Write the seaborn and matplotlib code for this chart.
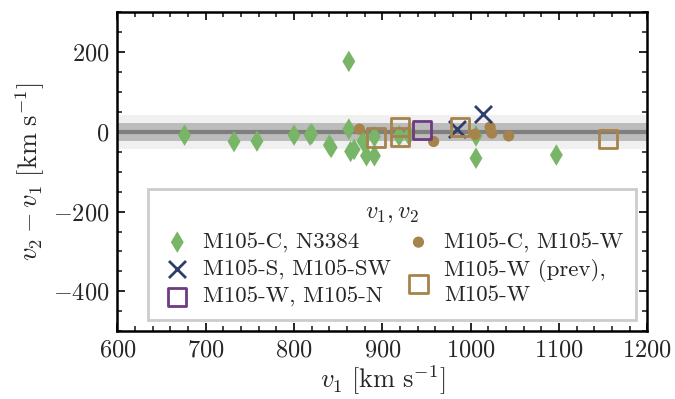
import matplotlib
matplotlib.use("Agg")
import matplotlib.pyplot as plt
import seaborn as sns
import pandas as pd
from matplotlib.ticker import MultipleLocator

# ---- data ----
c_n3384_v1 = [676, 732, 758, 800, 818, 820, 840, 842, 862, 862, 864, 868, 878, 882, 891, 891, 919, 930, 1006, 1006, 1097]
c_n3384_dv = [-8, -24, -23, -8, -8, -5, -33, -39, 177, 7, -49, -44, -23, -60, -60, -12, -10, -8, -66, -10, -58]

c_w_v1 = [874, 958, 1005, 1022, 1024, 1043]
c_w_dv = [7, -24, -6, 12, -3, -10]

s_sw_v1 = [985, 1014]
s_sw_dv = [7, 45]

w_n_v1 = [945]
w_n_dv = [5]

wprev_w_v1 = [893, 920, 920, 988, 1155]
wprev_w_dv = [-14, 13, -12, 12, -18]

labels = ["M105-C, N3384", "M105-S, M105-SW", "M105-W, M105-N",
          "M105-C, M105-W", "M105-W (prev),\nM105-W"]
colors = ["#79b567", "#2d3e6d", "#6e3a80", "#a6834b", "#a6834b"]

xticks = [600, 700, 800, 900, 1000, 1100, 1200]
yticks = [-400, -200, 0, 200]

sns.set_style("ticks")
plt.rcParams.update({
    "font.family": "serif",
    "font.serif": ["cmr10", "DejaVu Serif"],
    "mathtext.fontset": "cm",
    "axes.formatter.use_mathtext": True,
    "axes.unicode_minus": True,
    "xtick.direction": "in",
    "ytick.direction": "in",
    "xtick.top": True,
    "ytick.right": True,
    "xtick.minor.visible": True,
    "ytick.minor.visible": True,
    "axes.linewidth": 1.8,
    "xtick.major.width": 1.4,
    "ytick.major.width": 1.4,
    "xtick.minor.width": 1.2,
    "ytick.minor.width": 1.2,
    "xtick.major.size": 6,
    "ytick.major.size": 6,
    "xtick.minor.size": 3.5,
    "ytick.minor.size": 3.5,
    "axes.edgecolor": "black",
})

fig = plt.figure(figsize=(6.75, 3.99), dpi=100)
ax = fig.add_axes([0.174, 0.170, 0.785, 0.799])

ax.axhspan(-43, 43, color="#f0f0f0", zorder=0, lw=0)
ax.axhspan(-23, 23, color="#bcbcbc", zorder=0.5, lw=0)
ax.axhline(0, color="#7f7f7f", lw=3, zorder=1)

df1 = pd.DataFrame({"v1": c_n3384_v1, "dv": c_n3384_dv})
df2 = pd.DataFrame({"v1": s_sw_v1, "dv": s_sw_dv})
df3 = pd.DataFrame({"v1": w_n_v1, "dv": w_n_dv})
df4 = pd.DataFrame({"v1": c_w_v1, "dv": c_w_dv})
df5 = pd.DataFrame({"v1": wprev_w_v1, "dv": wprev_w_dv})

sns.scatterplot(data=df1, x="v1", y="dv", ax=ax, marker="d", s=120,
                color=colors[0], edgecolor="none", label=labels[0], zorder=3)
sns.scatterplot(data=df2, x="v1", y="dv", ax=ax, marker="x", s=150,
                color=colors[1], linewidth=2, label=labels[1], zorder=4)
sns.scatterplot(data=df3, x="v1", y="dv", ax=ax, marker="s", s=170,
                facecolors="none", edgecolors=colors[2], linewidth=2,
                label=labels[2], zorder=4)
sns.scatterplot(data=df4, x="v1", y="dv", ax=ax, marker="o", s=65,
                color=colors[3], edgecolor="none", label=labels[3], zorder=3)
sns.scatterplot(data=df5, x="v1", y="dv", ax=ax, marker="s", s=170,
                facecolors="none", edgecolors=colors[4], linewidth=2,
                label=labels[4], zorder=4)

ax.set_xlim(600, 1200)
ax.set_ylim(-500, 300)
ax.set_xticks(xticks)
ax.set_yticks(yticks)
ax.xaxis.set_minor_locator(MultipleLocator(20))
ax.yaxis.set_minor_locator(MultipleLocator(50))
ax.tick_params(labelsize=17.5, pad=6)

ax.set_xlabel(r"$v_1\ [\mathrm{km\ s^{-1}}]$", fontsize=19, labelpad=1)
ax.set_ylabel(r"$v_2 - v_1\ [\mathrm{km\ s^{-1}}]$", fontsize=19, labelpad=4)

leg = ax.legend(ncol=2, title=r"$v_1, v_2$", loc="lower right",
                fontsize=16.5, title_fontsize=17.5, frameon=True, fancybox=False,
                edgecolor="#cccccc", framealpha=1, borderaxespad=0.5,
                handletextpad=0.37, columnspacing=0.45, labelspacing=0.3,
                borderpad=0.55, handlelength=1.5)
leg.get_frame().set_linewidth(2)

fig.savefig("out.png", dpi=100)
